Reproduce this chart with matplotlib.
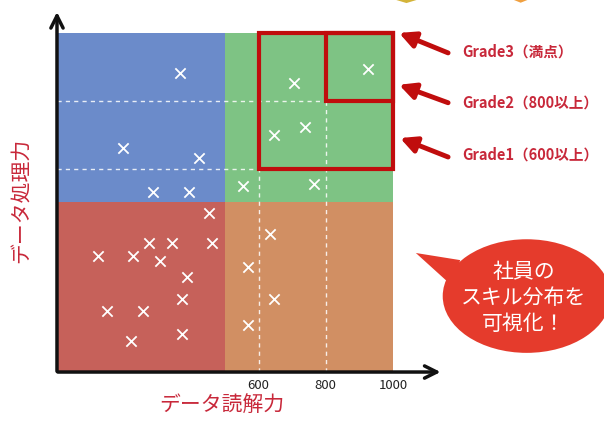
import matplotlib
matplotlib.use("Agg")
import matplotlib.pyplot as plt
from matplotlib.patches import Rectangle, Ellipse, Polygon

plt.rcParams['font.family'] = ['Noto Sans CJK JP', 'DejaVu Sans']

# quadrant areas: (x0, y0, x1, y1, colour)
areas = [
    (0, 500, 500, 1000, "#6b8bca"),
    (500, 500, 1000, 1000, "#7ec384"),
    (0, 0, 500, 500, "#c6615a"),
    (500, 0, 1000, 500, "#d18f63"),
]

# employees (読解力, 処理力)
blue_x = [366, 196, 423, 286, 393]
blue_y = [882, 661, 631, 531, 531]
green_x = [705, 926, 646, 738, 554, 765]
green_y = [853, 894, 699, 723, 549, 555]
red_x = [452, 274, 342, 461, 122, 226, 307, 387, 372, 149, 256, 372, 220]
red_y = [469, 381, 381, 381, 342, 342, 327, 280, 215, 180, 180, 112, 91]
orange_x = [634, 568, 646, 568]
orange_y = [407, 310, 215, 139]

grid_levels = [600, 800]
tick_values = [600, 800, 1000]

grades = ["Grade3（満点）", "Grade2（800以上）", "Grade1（600以上）"]
grade_boxes = [(600, 600, 1000, 1000), (800, 800, 1000, 1000)]

RED = "#c00d0d"
LABEL_RED = "#c8283a"

fig = plt.figure(figsize=(6.04, 4.29), dpi=100)
ax = fig.add_axes([0, 0, 1, 1])
ax.set_xlim(-169.6, 1628)
ax.set_ylim(-168, 1097)
ax.axis("off")

for x0, y0, x1, y1, c in areas:
    ax.add_patch(Rectangle((x0, y0), x1 - x0, y1 - y0, color=c, lw=0, zorder=1))

for v in grid_levels:
    ax.plot([0, 1000], [v, v], ls=(0, (3, 3)), color="white", lw=1, alpha=0.85, zorder=2)
    ax.plot([v, v], [0, 1000], ls=(0, (3, 3)), color="white", lw=1, alpha=0.85, zorder=2)

for xs, ys in [(blue_x, blue_y), (green_x, green_y), (red_x, red_y), (orange_x, orange_y)]:
    ax.scatter(xs, ys, marker="x", s=55, color="white", lw=1.3, zorder=3)

for x0, y0, x1, y1 in grade_boxes:
    ax.add_patch(Rectangle((x0, y0), x1 - x0, y1 - y0, fill=False, ec=RED, lw=3, zorder=4))

# axes with arrow heads
ax.annotate("", xy=(0, 1070), xytext=(0, -6),
            arrowprops=dict(arrowstyle="->", lw=2.5, color="#111111", mutation_scale=22), zorder=5)
ax.annotate("", xy=(1150, 0), xytext=(-6, 0),
            arrowprops=dict(arrowstyle="->", lw=2.5, color="#111111", mutation_scale=22), zorder=5)

for t in tick_values:
    ax.text(t, -20, str(t), ha="center", va="top", fontsize=9.5, color="#222222")

ax.text(491, -97, "データ読解力", ha="center", va="center", fontsize=15, color=LABEL_RED)
ax.text(-104, 507, "データ処理力", ha="center", va="center", rotation=90, fontsize=15, color=LABEL_RED)

# grade callouts
tips = [(1018, 1000), (1018, 847), (1021, 690)]
tails = [(1164, 941), (1164, 794), (1164, 634)]
text_y = [944, 796, 640]
for g, tip, tail, ty in zip(grades, tips, tails, text_y):
    ax.annotate("", xy=tip, xytext=tail,
                arrowprops=dict(arrowstyle="-|>", lw=3.5, color=RED, mutation_scale=24,
                                shrinkA=0, shrinkB=0))
    ax.text(1205, ty, g, ha="left", va="center", fontsize=10.5, fontweight="bold", color=LABEL_RED)

# speech bubble
BUBBLE = "#e53b2c"
ax.add_patch(Ellipse((1398, 224), 500, 335, color=BUBBLE, lw=0, zorder=6))
ax.add_patch(Polygon([(1068, 351), (1200, 330), (1175, 255)], closed=True, color=BUBBLE, lw=0, zorder=6))
ax.text(1390, 218, "社員の\nスキル分布を\n可視化！", ha="center", va="center", fontsize=15,
        color="white", linespacing=1.25, zorder=7)

# cut-off icons at the top edge
ax.add_patch(Polygon([(1010, 1097), (1070, 1097), (1040, 1088)], closed=True, color="#d4b43a", lw=0))
ax.add_patch(Polygon([(1360, 1097), (1400, 1097), (1380, 1089)], closed=True, color="#f0a040", lw=0))

fig.savefig("out.png", dpi=100)
